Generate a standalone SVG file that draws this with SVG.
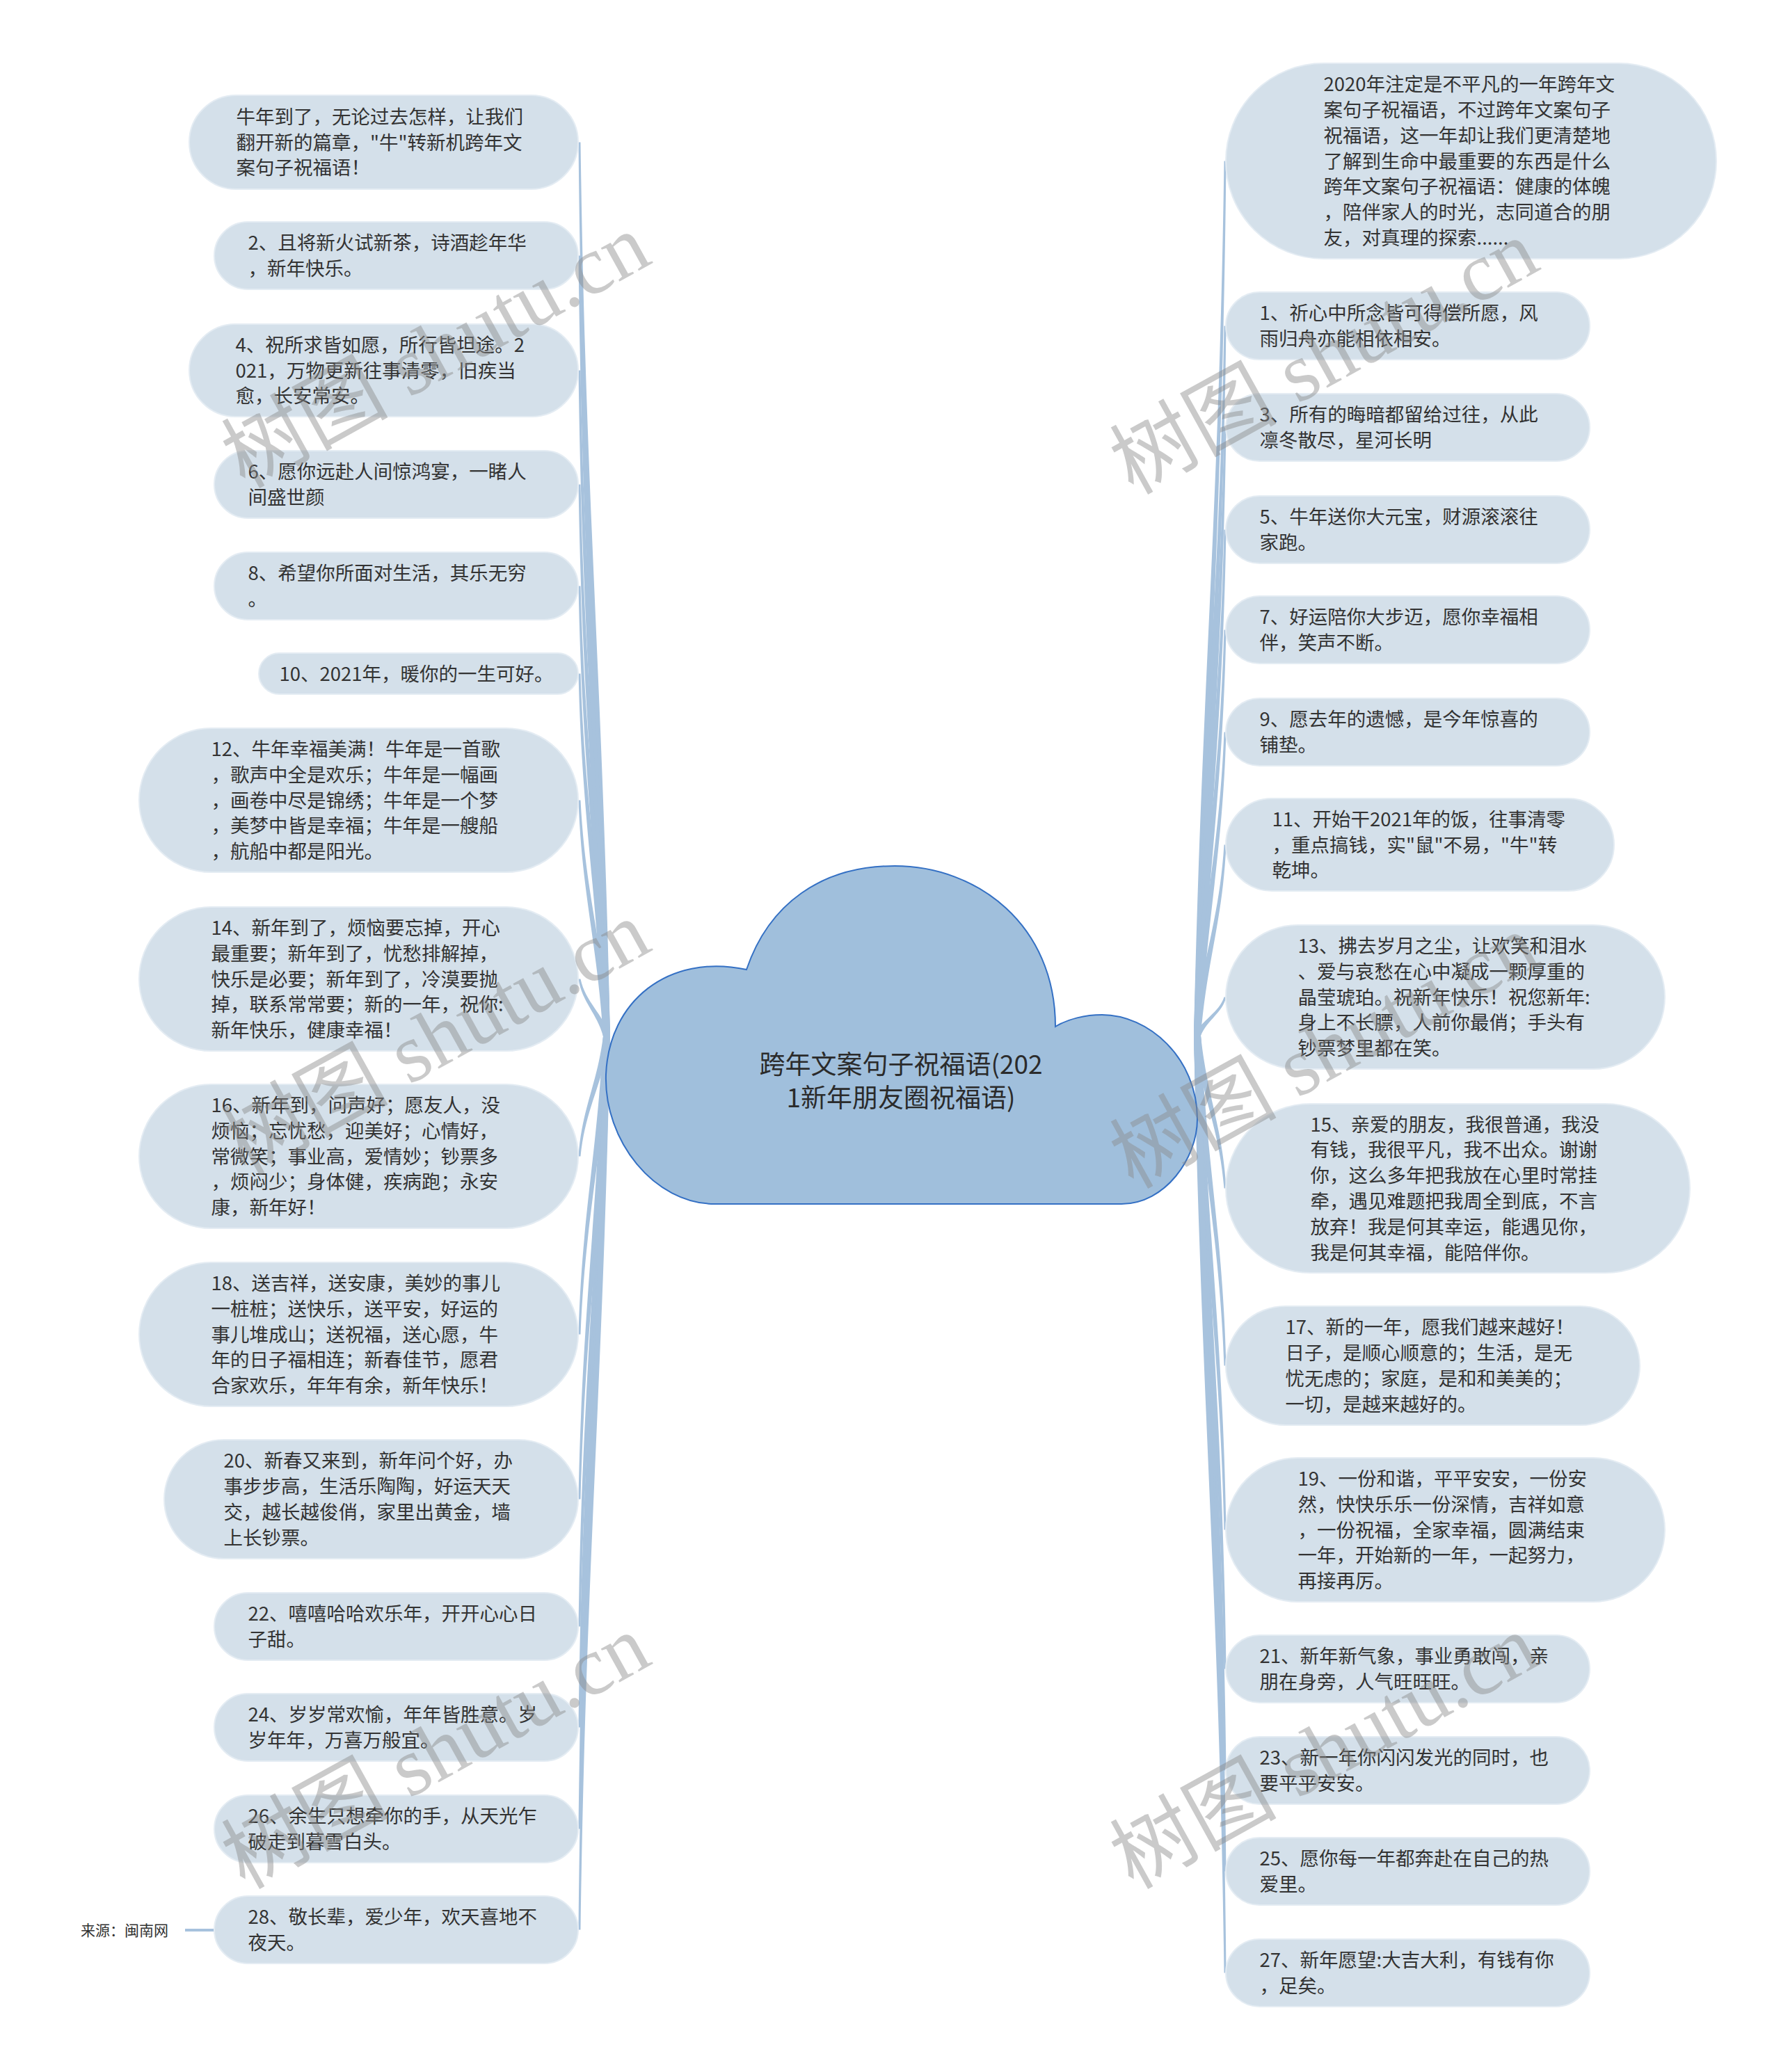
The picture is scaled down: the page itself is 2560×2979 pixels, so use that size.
<svg xmlns="http://www.w3.org/2000/svg" width="2560" height="2979" viewBox="0 0 2560 2979">
<style>
.node rect{fill:#d4e0ea;stroke:#e4ecf3;stroke-width:2}
.node text{font-family:"Noto Sans CJK SC","Microsoft YaHei",sans-serif;font-size:27.5px;fill:#333}
.conn path{fill:#a7c2dd}
.root text{font-family:"Noto Sans CJK SC","Microsoft YaHei",sans-serif;font-size:37px;fill:#2b2b2b;text-anchor:middle}
.wm text{font-family:"Liberation Serif","Noto Sans CJK SC",serif;font-size:120px;fill:#8a8a8a;fill-opacity:0.45;text-anchor:middle}
</style>
<rect width="2560" height="2979" fill="#ffffff"/>
<g id="connectors" class="conn">
<path d="M867,1490 C858.25,975.8 836.35,718.7 831.5,204.5 L834.5,204.5 C841.35,718.7 866.25,975.8 877,1490Z"/>
<path d="M867,1490 C858.25,1041 836.35,816.5 831.5,367.5 L834.5,367.5 C841.35,816.5 866.25,1041 877,1490Z"/>
<path d="M867,1490 C858.25,1107 836.35,915.5 831.5,532.5 L834.5,532.5 C841.35,915.5 866.25,1107 877,1490Z"/>
<path d="M867,1490 C858.25,1172.6 836.35,1013.9 831.5,696.5 L834.5,696.5 C841.35,1013.9 866.25,1172.6 877,1490Z"/>
<path d="M867,1490 C858.25,1231 836.35,1101.5 831.5,842.5 L834.5,842.5 C841.35,1101.5 866.25,1231 877,1490Z"/>
<path d="M867,1490 C858.25,1281.4 836.35,1177.1 831.5,968.5 L834.5,968.5 C841.35,1177.1 866.25,1281.4 877,1490Z"/>
<path d="M867,1490 C858.25,1354.2 836.35,1286.3 831.5,1150.5 L834.5,1150.5 C841.35,1286.3 866.25,1354.2 877,1490Z"/>
<path d="M867,1490 C858.25,1457 836.35,1440.5 831.5,1407.5 L834.5,1407.5 C841.35,1440.5 866.25,1457 877,1490Z"/>
<path d="M867,1490 C858.25,1559 836.35,1593.5 831.5,1662.5 L834.5,1662.5 C841.35,1593.5 866.25,1559 877,1490Z"/>
<path d="M867,1490 C858.25,1661.4 836.35,1747.1 831.5,1918.5 L834.5,1918.5 C841.35,1747.1 866.25,1661.4 877,1490Z"/>
<path d="M867,1490 C858.25,1756.2 836.35,1889.3 831.5,2155.5 L834.5,2155.5 C841.35,1889.3 866.25,1756.2 877,1490Z"/>
<path d="M867,1490 C858.25,1829.4 836.35,1999.1 831.5,2338.5 L834.5,2338.5 C841.35,1999.1 866.25,1829.4 877,1490Z"/>
<path d="M867,1490 C858.25,1887.4 836.35,2086.1 831.5,2483.5 L834.5,2483.5 C841.35,2086.1 866.25,1887.4 877,1490Z"/>
<path d="M867,1490 C858.25,1945.8 836.35,2173.7 831.5,2629.5 L834.5,2629.5 C841.35,2173.7 866.25,1945.8 877,1490Z"/>
<path d="M867,1490 C858.25,2003.8 836.35,2260.7 831.5,2774.5 L834.5,2774.5 C841.35,2260.7 866.25,2003.8 877,1490Z"/>
<path d="M1716,1489 C1727,986 1752.5,734.5 1759.5,231.5 L1762.5,231.5 C1757.5,734.5 1735,986 1726,1489Z"/>
<path d="M1716,1489 C1727,1080.8 1752.5,876.7 1759.5,468.5 L1762.5,468.5 C1757.5,876.7 1735,1080.8 1726,1489Z"/>
<path d="M1716,1489 C1727,1139.2 1752.5,964.3 1759.5,614.5 L1762.5,614.5 C1757.5,964.3 1735,1139.2 1726,1489Z"/>
<path d="M1716,1489 C1727,1198 1752.5,1052.5 1759.5,761.5 L1762.5,761.5 C1757.5,1052.5 1735,1198 1726,1489Z"/>
<path d="M1716,1489 C1727,1255.6 1752.5,1138.9 1759.5,905.5 L1762.5,905.5 C1757.5,1138.9 1735,1255.6 1726,1489Z"/>
<path d="M1716,1489 C1727,1314.4 1752.5,1227.1 1759.5,1052.5 L1762.5,1052.5 C1757.5,1227.1 1735,1314.4 1726,1489Z"/>
<path d="M1716,1489 C1727,1379.2 1752.5,1324.3 1759.5,1214.5 L1762.5,1214.5 C1757.5,1324.3 1735,1379.2 1726,1489Z"/>
<path d="M1716,1489 C1727,1466.8 1752.5,1455.7 1759.5,1433.5 L1762.5,1433.5 C1757.5,1455.7 1735,1466.8 1726,1489Z"/>
<path d="M1716,1489 C1727,1576.8 1752.5,1620.7 1759.5,1708.5 L1762.5,1708.5 C1757.5,1620.7 1735,1576.8 1726,1489Z"/>
<path d="M1716,1489 C1727,1678.8 1752.5,1773.7 1759.5,1963.5 L1762.5,1963.5 C1757.5,1773.7 1735,1678.8 1726,1489Z"/>
<path d="M1716,1489 C1727,1773.2 1752.5,1915.3 1759.5,2199.5 L1762.5,2199.5 C1757.5,1915.3 1735,1773.2 1726,1489Z"/>
<path d="M1716,1489 C1727,1853.2 1752.5,2035.3 1759.5,2399.5 L1762.5,2399.5 C1757.5,2035.3 1735,1853.2 1726,1489Z"/>
<path d="M1716,1489 C1727,1911.6 1752.5,2122.9 1759.5,2545.5 L1762.5,2545.5 C1757.5,2122.9 1735,1911.6 1726,1489Z"/>
<path d="M1716,1489 C1727,1969.6 1752.5,2209.9 1759.5,2690.5 L1762.5,2690.5 C1757.5,2209.9 1735,1969.6 1726,1489Z"/>
<path d="M1716,1489 C1727,2028 1752.5,2297.5 1759.5,2836.5 L1762.5,2836.5 C1757.5,2297.5 1735,2028 1726,1489Z"/>
<path d="M266,2773 L310,2773 L310,2777 L266,2777Z"/>
</g>
<g id="root" class="root">
<path d="M1073,1394 C1105,1300 1180,1245 1286,1245 C1405,1245 1517,1330 1517,1476 C1535,1465 1560,1459 1584,1459 C1650,1459 1721,1520 1721,1609 C1721,1665 1675,1731 1612,1731 L1028,1731 C940,1731 868,1640 871,1545 C875,1440 960,1370 1073,1394Z" fill="#a0bfdc" stroke="#3470c4" stroke-width="2"/>
<text x="1295" y="1544">跨年文案句子祝福语(202</text>
<text x="1295" y="1592">1新年朋友圈祝福语)</text>
</g>
<g id="n-l0" class="node"><rect x="272" y="137" width="559" height="135" rx="67.5"/><text x="339.5" y="177.7">牛年到了，无论过去怎样，让我们<tspan x="339.5" dy="36.8">翻开新的篇章，"牛"转新机跨年文</tspan><tspan x="339.5" dy="36.8">案句子祝福语！</tspan></text></g>
<g id="n-l1" class="node"><rect x="308" y="319" width="523" height="97" rx="48.5"/><text x="356.5" y="359.1">2、且将新火试新茶，诗酒趁年华<tspan x="356.5" dy="36.8">，新年快乐。</tspan></text></g>
<g id="n-l2" class="node"><rect x="272" y="466" width="559" height="133" rx="66.5"/><text x="338.5" y="505.7">4、祝所求皆如愿，所行皆坦途。2<tspan x="338.5" dy="36.8">021，万物更新往事清零，旧疾当</tspan><tspan x="338.5" dy="36.8">愈，长安常安。</tspan></text></g>
<g id="n-l3" class="node"><rect x="308" y="648" width="523" height="97" rx="48.5"/><text x="356.5" y="688.1">6、愿你远赴人间惊鸿宴，一睹人<tspan x="356.5" dy="36.8">间盛世颜</tspan></text></g>
<g id="n-l4" class="node"><rect x="308" y="794" width="523" height="97" rx="48.5"/><text x="356.5" y="834.1">8、希望你所面对生活，其乐无穷<tspan x="356.5" dy="36.8">。</tspan></text></g>
<g id="n-l5" class="node"><rect x="372" y="939" width="459" height="59" rx="29.5"/><text x="401.5" y="978.5">10、2021年，暖你的一生可好。</text></g>
<g id="n-l6" class="node"><rect x="200" y="1047" width="631" height="207" rx="103.5"/><text x="303.5" y="1086.9">12、牛年幸福美满！牛年是一首歌<tspan x="303.5" dy="36.8">，歌声中全是欢乐；牛年是一幅画</tspan><tspan x="303.5" dy="36.8">，画卷中尽是锦绣；牛年是一个梦</tspan><tspan x="303.5" dy="36.8">，美梦中皆是幸福；牛年是一艘船</tspan><tspan x="303.5" dy="36.8">，航船中都是阳光。</tspan></text></g>
<g id="n-l7" class="node"><rect x="200" y="1304" width="631" height="207" rx="103.5"/><text x="303.5" y="1343.9">14、新年到了，烦恼要忘掉，开心<tspan x="303.5" dy="36.8">最重要；新年到了，忧愁排解掉，</tspan><tspan x="303.5" dy="36.8">快乐是必要；新年到了，冷漠要抛</tspan><tspan x="303.5" dy="36.8">掉，联系常常要；新的一年，祝你:</tspan><tspan x="303.5" dy="36.8">新年快乐，健康幸福！</tspan></text></g>
<g id="n-l8" class="node"><rect x="200" y="1559" width="631" height="207" rx="103.5"/><text x="303.5" y="1598.9">16、新年到，问声好；愿友人，没<tspan x="303.5" dy="36.8">烦恼；忘忧愁，迎美好；心情好，</tspan><tspan x="303.5" dy="36.8">常微笑；事业高，爱情妙；钞票多</tspan><tspan x="303.5" dy="36.8">，烦闷少；身体健，疾病跑；永安</tspan><tspan x="303.5" dy="36.8">康，新年好！</tspan></text></g>
<g id="n-l9" class="node"><rect x="200" y="1815" width="631" height="207" rx="103.5"/><text x="303.5" y="1854.9">18、送吉祥，送安康，美妙的事儿<tspan x="303.5" dy="36.8">一桩桩；送快乐，送平安，好运的</tspan><tspan x="303.5" dy="36.8">事儿堆成山；送祝福，送心愿，牛</tspan><tspan x="303.5" dy="36.8">年的日子福相连；新春佳节，愿君</tspan><tspan x="303.5" dy="36.8">合家欢乐，年年有余，新年快乐！</tspan></text></g>
<g id="n-l10" class="node"><rect x="236" y="2070" width="595" height="171" rx="85.5"/><text x="321.5" y="2110.3">20、新春又来到，新年问个好，办<tspan x="321.5" dy="36.8">事步步高，生活乐陶陶，好运天天</tspan><tspan x="321.5" dy="36.8">交，越长越俊俏，家里出黄金，墙</tspan><tspan x="321.5" dy="36.8">上长钞票。</tspan></text></g>
<g id="n-l11" class="node"><rect x="308" y="2290" width="523" height="97" rx="48.5"/><text x="356.5" y="2330.1">22、嘻嘻哈哈欢乐年，开开心心日<tspan x="356.5" dy="36.8">子甜。</tspan></text></g>
<g id="n-l12" class="node"><rect x="308" y="2435" width="523" height="97" rx="48.5"/><text x="356.5" y="2475.1">24、岁岁常欢愉，年年皆胜意。岁<tspan x="356.5" dy="36.8">岁年年，万喜万般宜。</tspan></text></g>
<g id="n-l13" class="node"><rect x="308" y="2581" width="523" height="97" rx="48.5"/><text x="356.5" y="2621.1">26、余生只想牵你的手，从天光乍<tspan x="356.5" dy="36.8">破走到暮雪白头。</tspan></text></g>
<g id="n-l14" class="node"><rect x="308" y="2726" width="523" height="97" rx="48.5"/><text x="356.5" y="2766.1">28、敬长辈，爱少年，欢天喜地不<tspan x="356.5" dy="36.8">夜天。</tspan></text></g>
<g id="n-r0" class="node"><rect x="1762" y="91" width="705" height="281" rx="140.5"/><text x="1902.5" y="131.1">2020年注定是不平凡的一年跨年文<tspan x="1902.5" dy="36.8">案句子祝福语，不过跨年文案句子</tspan><tspan x="1902.5" dy="36.8">祝福语，这一年却让我们更清楚地</tspan><tspan x="1902.5" dy="36.8">了解到生命中最重要的东西是什么</tspan><tspan x="1902.5" dy="36.8">跨年文案句子祝福语：健康的体魄</tspan><tspan x="1902.5" dy="36.8">，陪伴家人的时光，志同道合的朋</tspan><tspan x="1902.5" dy="36.8">友，对真理的探索......</tspan></text></g>
<g id="n-r1" class="node"><rect x="1762" y="420" width="523" height="97" rx="48.5"/><text x="1810.5" y="460.1">1、祈心中所念皆可得偿所愿，风<tspan x="1810.5" dy="36.8">雨归舟亦能相依相安。</tspan></text></g>
<g id="n-r2" class="node"><rect x="1762" y="566" width="523" height="97" rx="48.5"/><text x="1810.5" y="606.1">3、所有的晦暗都留给过往，从此<tspan x="1810.5" dy="36.8">凛冬散尽，星河长明</tspan></text></g>
<g id="n-r3" class="node"><rect x="1762" y="713" width="523" height="97" rx="48.5"/><text x="1810.5" y="753.1">5、牛年送你大元宝，财源滚滚往<tspan x="1810.5" dy="36.8">家跑。</tspan></text></g>
<g id="n-r4" class="node"><rect x="1762" y="857" width="523" height="97" rx="48.5"/><text x="1810.5" y="897.1">7、好运陪你大步迈，愿你幸福相<tspan x="1810.5" dy="36.8">伴，笑声不断。</tspan></text></g>
<g id="n-r5" class="node"><rect x="1762" y="1004" width="523" height="97" rx="48.5"/><text x="1810.5" y="1044.1">9、愿去年的遗憾，是今年惊喜的<tspan x="1810.5" dy="36.8">铺垫。</tspan></text></g>
<g id="n-r6" class="node"><rect x="1762" y="1148" width="558" height="133" rx="66.5"/><text x="1828.5" y="1187.7">11、开始干2021年的饭，往事清零<tspan x="1828.5" dy="36.8">，重点搞钱，实"鼠"不易，"牛"转</tspan><tspan x="1828.5" dy="36.8">乾坤。</tspan></text></g>
<g id="n-r7" class="node"><rect x="1762" y="1330" width="631" height="207" rx="103.5"/><text x="1865.5" y="1369.9">13、拂去岁月之尘，让欢笑和泪水<tspan x="1865.5" dy="36.8">、爱与哀愁在心中凝成一颗厚重的</tspan><tspan x="1865.5" dy="36.8">晶莹琥珀。祝新年快乐！祝您新年:</tspan><tspan x="1865.5" dy="36.8">身上不长膘，人前你最俏；手头有</tspan><tspan x="1865.5" dy="36.8">钞票梦里都在笑。</tspan></text></g>
<g id="n-r8" class="node"><rect x="1762" y="1587" width="667" height="243" rx="121.5"/><text x="1883.5" y="1626.5">15、亲爱的朋友，我很普通，我没<tspan x="1883.5" dy="36.8">有钱，我很平凡，我不出众。谢谢</tspan><tspan x="1883.5" dy="36.8">你，这么多年把我放在心里时常挂</tspan><tspan x="1883.5" dy="36.8">牵，遇见难题把我周全到底，不言</tspan><tspan x="1883.5" dy="36.8">放弃！我是何其幸运，能遇见你，</tspan><tspan x="1883.5" dy="36.8">我是何其幸福，能陪伴你。</tspan></text></g>
<g id="n-r9" class="node"><rect x="1762" y="1878" width="595" height="171" rx="85.5"/><text x="1847.5" y="1918.3">17、新的一年，愿我们越来越好！<tspan x="1847.5" dy="36.8">日子，是顺心顺意的；生活，是无</tspan><tspan x="1847.5" dy="36.8">忧无虑的；家庭，是和和美美的；</tspan><tspan x="1847.5" dy="36.8">一切，是越来越好的。</tspan></text></g>
<g id="n-r10" class="node"><rect x="1762" y="2096" width="631" height="207" rx="103.5"/><text x="1865.5" y="2135.9">19、一份和谐，平平安安，一份安<tspan x="1865.5" dy="36.8">然，快快乐乐一份深情，吉祥如意</tspan><tspan x="1865.5" dy="36.8">，一份祝福，全家幸福，圆满结束</tspan><tspan x="1865.5" dy="36.8">一年，开始新的一年，一起努力，</tspan><tspan x="1865.5" dy="36.8">再接再厉。</tspan></text></g>
<g id="n-r11" class="node"><rect x="1762" y="2351" width="523" height="97" rx="48.5"/><text x="1810.5" y="2391.1">21、新年新气象，事业勇敢闯，亲<tspan x="1810.5" dy="36.8">朋在身旁，人气旺旺旺。</tspan></text></g>
<g id="n-r12" class="node"><rect x="1762" y="2497" width="523" height="97" rx="48.5"/><text x="1810.5" y="2537.1">23、新一年你闪闪发光的同时，也<tspan x="1810.5" dy="36.8">要平平安安。</tspan></text></g>
<g id="n-r13" class="node"><rect x="1762" y="2642" width="523" height="97" rx="48.5"/><text x="1810.5" y="2682.1">25、愿你每一年都奔赴在自己的热<tspan x="1810.5" dy="36.8">爱里。</tspan></text></g>
<g id="n-r14" class="node"><rect x="1762" y="2788" width="523" height="97" rx="48.5"/><text x="1810.5" y="2828.1">27、新年愿望:大吉大利，有钱有你<tspan x="1810.5" dy="36.8">，足矣。</tspan></text></g>
<g id="source"><text x="116" y="2783" font-family="Noto Sans CJK SC, sans-serif" font-size="21" fill="#333">来源：闽南网</text></g>
<g id="watermarks" class="wm">
<text transform="translate(646,540) rotate(-29)">树图 shutu.cn</text>
<text transform="translate(646,1528) rotate(-29)">树图 shutu.cn</text>
<text transform="translate(646,2554) rotate(-29)">树图 shutu.cn</text>
<text transform="translate(1923,549) rotate(-29)">树图 shutu.cn</text>
<text transform="translate(1923,1547) rotate(-29)">树图 shutu.cn</text>
<text transform="translate(1923,2554) rotate(-29)">树图 shutu.cn</text>
</g>
</svg>
